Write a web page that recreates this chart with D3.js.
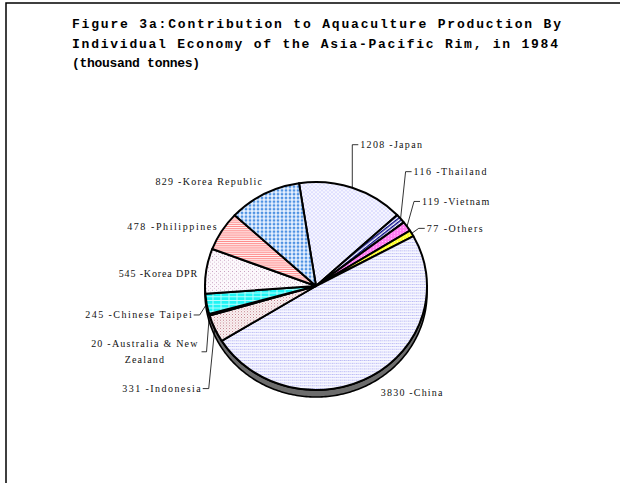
<!DOCTYPE html>
<html>
<head>
<meta charset="utf-8">
<script src="https://cdn.jsdelivr.net/npm/d3@7"></script>
<style>
  body { margin: 0; background: #fff; }
</style>
</head>
<body>
<script>
// Data
const titleLines = [
  'Figure 3a:Contribution to Aquaculture Production By',
  'Individual Economy of the Asia-Pacific Rim, in 1984',
  '(thousand tonnes)'
];
const categories = ['Japan', 'Thailand', 'Vietnam', 'Others', 'China', 'Indonesia',
  'Australia & New Zealand', 'Chinese Taipei', 'Korea DPR', 'Philippines', 'Korea Republic'];
const values = [1208, 116, 119, 77, 3830, 331, 20, 245, 545, 478, 829];
const labelTexts = [
  ['1208 -Japan'], ['116 -Thailand'], ['119 -Vietnam'], ['77 -Others'], ['3830 -China'],
  ['331 -Indonesia'], ['20 -Australia & New', 'Zealand'], ['245 -Chinese Taipei'],
  ['545 -Korea DPR'], ['478 -Philippines'], ['829 -Korea Republic']
];

// Layout
const width = 620, height = 483;
const cx = 316, cy = 286, rx = 111, ry = 104, depth = 7;
const start = -8.8 * Math.PI / 180;
const charW = 5.6;
const titleWidths = [489, 486, 128];

// label placement relative to the slice's outer edge
const labelLayout = {
  'Japan': { dx: 8, dy: -43, anchor: 'start', leader: true },
  'Thailand': { dx: 13, dy: -47, anchor: 'start', leader: true },
  'Vietnam': { dx: 15, dy: -25, anchor: 'start', leader: true },
  'Others': { dx: 15, dy: -5, anchor: 'start', leader: true },
  'China': { dx: 9, dy: 17, anchor: 'start', leader: false },
  'Indonesia': { dx: -14, dy: 60, anchor: 'end', leader: true },
  'Australia & New Zealand': { dx: -65, dy: 37, anchor: 'middle', leader: true },
  'Chinese Taipei': { dx: -15, dy: 11, anchor: 'end', leader: true },
  'Korea DPR': { dx: -9, dy: 2, anchor: 'end', leader: false },
  'Philippines': { dx: -5, dy: -5, anchor: 'end', leader: false },
  'Korea Republic': { dx: -2, dy: -13, anchor: 'end', leader: false }
};

const svg = d3.select('body')
  .append('svg')
  .attr('width', width)
  .attr('height', height);

// Patterns
const defs = svg.append('defs');
function pattern(id, w, h, bg, draw) {
  const p = defs.append('pattern')
    .attr('id', id)
    .attr('patternUnits', 'userSpaceOnUse')
    .attr('width', w)
    .attr('height', h);
  p.append('rect').attr('width', w).attr('height', h).attr('fill', bg);
  draw(p);
  return p;
}

pattern('p0', 4, 4, '#f7f7ff', p => p.append('path')
  .attr('d', 'M0,0L4,4M4,0L0,4').attr('stroke', '#d4d4ff').attr('stroke-width', 0.7));
pattern('p1', 3, 3, '#ffffff', p => p.append('rect')
  .attr('width', 3).attr('height', 1.5).attr('fill', '#0a0a88'))
  .attr('patternTransform', 'rotate(-40)');
pattern('p2', 3, 3, '#ff7cf0', p => p.append('rect')
  .attr('width', 1).attr('height', 1).attr('fill', '#ffd0ff'));
pattern('p3', 3, 3, '#ffff30', p => p.append('rect')
  .attr('width', 1).attr('height', 1).attr('fill', '#ffffb0'));
pattern('p4', 4, 3, '#f6f6ff', p => {
  p.append('rect').attr('x', 0).attr('y', 1).attr('width', 1.5).attr('height', 1).attr('fill', '#b8b8f4');
  p.append('rect').attr('x', 2).attr('y', 1).attr('width', 1.5).attr('height', 1).attr('fill', '#c8c8f8');
});
pattern('p5', 3, 3, '#fbf4f4', p => {
  p.append('rect').attr('width', 1).attr('height', 1).attr('fill', '#c07a86');
  p.append('rect').attr('x', 1.5).attr('y', 1.5).attr('width', 1).attr('height', 1).attr('fill', '#d8a8b0');
});
pattern('p6', 4, 4, '#000000', () => {});
pattern('p7', 8, 4, '#20f4f4', p => p.append('path')
  .attr('d', 'M0,3.5H8M1,0V3M5,4V7').attr('stroke', '#e0ffff').attr('stroke-width', 0.8));
pattern('p8', 4, 4, '#fcf8fc', p => {
  p.append('rect').attr('width', 1).attr('height', 1).attr('fill', '#c8a0c0');
  p.append('rect').attr('x', 2).attr('y', 2).attr('width', 1).attr('height', 1).attr('fill', '#d8c0d4');
});
pattern('p9', 4, 2, '#fff4f4', p => p.append('rect')
  .attr('y', 0).attr('width', 4).attr('height', 1).attr('fill', '#ff8c8c'));
pattern('p10', 4, 4, '#e6f0ff', p => p.append('path')
  .attr('d', 'M2,0.3L3.7,2L2,3.7L0.3,2Z').attr('fill', '#4b90e2'));

// Frame (top and left edges only)
svg.append('path')
  .attr('d', `M6,${height}V3H${width}`)
  .attr('fill', 'none')
  .attr('stroke', '#000')
  .attr('stroke-width', 1.5);

// Title
titleLines.forEach((t, i) => {
  svg.append('text')
    .attr('x', 72)
    .attr('y', 28 + i * 19.5)
    .attr('font-family', 'Liberation Mono, monospace')
    .attr('font-weight', 'bold')
    .attr('font-size', 13)
    .attr('textLength', titleWidths[i])
    .attr('lengthAdjust', 'spacing')
    .text(t);
});

// Pie
const pie = d3.pie()
  .sort(null)
  .value(d => d)
  .startAngle(start)
  .endAngle(start + 2 * Math.PI);
const arcs = pie(values);
const arc = d3.arc().innerRadius(0).outerRadius(rx);

const g = svg.append('g').attr('transform', `translate(${cx},${cy})`);

// 3D side band along the lower half
const ang = d3.range(90, 270.001, 1).map(a => a * Math.PI / 180);
const topEdge = ang.map(a => [rx * Math.sin(a), -ry * Math.cos(a)]);
const botEdge = ang.slice().reverse().map(a => [rx * Math.sin(a), -ry * Math.cos(a) + depth]);
g.append('path')
  .attr('d', d3.line()(topEdge.concat(botEdge)) + 'Z')
  .attr('fill', '#6c6c6c')
  .attr('stroke', '#000')
  .attr('stroke-width', 1.6);

g.append('g')
  .attr('transform', `scale(1,${ry / rx})`)
  .selectAll('path')
  .data(arcs)
  .join('path')
  .attr('d', arc)
  .attr('fill', (d, i) => `url(#p${i})`)
  .attr('stroke', '#000')
  .attr('stroke-width', 2)
  .attr('stroke-linejoin', 'round')
  .attr('vector-effect', 'non-scaling-stroke');

// Labels and leader lines
arcs.forEach((d, i) => {
  const mid = (d.startAngle + d.endAngle) / 2;
  const px = cx + rx * Math.sin(mid);
  const py = cy - ry * Math.cos(mid);
  const lay = labelLayout[categories[i]];
  const ax = px + lay.dx;
  const ay = py + lay.dy;
  const lines = labelTexts[i];
  const lineH = 16;

  lines.forEach((t, j) => {
    svg.append('text')
      .attr('x', ax)
      .attr('y', ay + (j - (lines.length - 1) / 2) * lineH)
      .attr('dy', '0.35em')
      .attr('text-anchor', lay.anchor)
      .attr('font-family', 'Liberation Serif, serif')
      .attr('font-size', 10)
      .attr('fill', '#111')
      .attr('textLength', t.length * charW)
      .attr('lengthAdjust', 'spacing')
      .text(t);
  });

  if (lay.leader) {
    let endX, elbowX;
    if (lay.anchor === 'start') {
      endX = ax - 2; elbowX = ax - 8;
    } else if (lay.anchor === 'end') {
      endX = ax + 2; elbowX = ax + 8;
    } else {
      const half = d3.max(lines, t => t.length) * charW / 2;
      endX = ax + half + 4; elbowX = ax + half + 9;
    }
    svg.append('path')
      .attr('d', d3.line()([[px, py], [elbowX, ay], [endX, ay]]))
      .attr('fill', 'none')
      .attr('stroke', '#000')
      .attr('stroke-width', 0.8);
  }
});
</script>
</body>
</html>
